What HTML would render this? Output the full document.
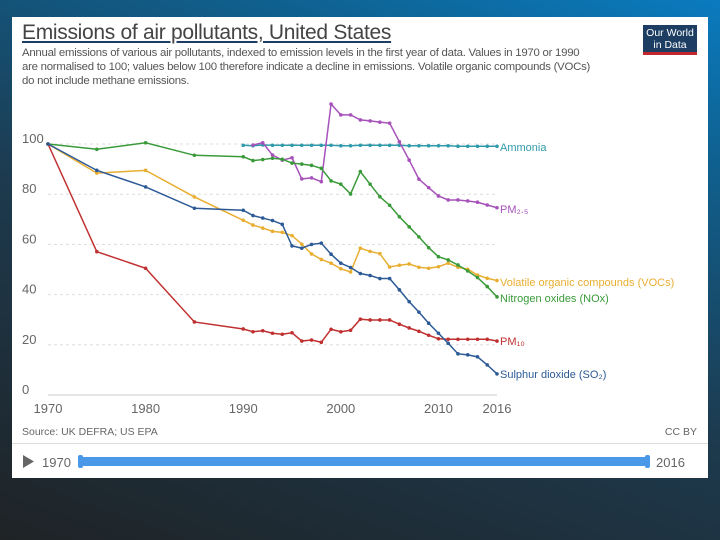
<!DOCTYPE html>
<html><head><meta charset="utf-8">
<style>
body{margin:0;width:720px;height:540px;overflow:hidden;font-family:"Liberation Sans",sans-serif;
background:linear-gradient(20deg,#1f2326 0%,#1d3a4e 45%,#0f6190 80%,#0a7bbf 100%);position:relative}
#card{position:absolute;left:12px;top:17px;width:696px;height:461px;background:#fff}
#title{position:absolute;left:10px;top:4px;font-size:21px;color:#444;text-decoration:underline;text-decoration-color:#1d3d63;letter-spacing:-0.3px}
#sub{position:absolute;left:10px;top:29px;white-space:nowrap;font-size:11.4px;line-height:14px;color:#555;letter-spacing:-0.25px}
#logo{position:absolute;left:631px;top:8px;width:54px;height:30px;background:#1d3d63;border-bottom:3px solid #c0272d;color:#fff;font-size:10.5px;line-height:12px;text-align:center;padding-top:2px;box-sizing:border-box}
#src{position:absolute;left:10px;top:409px;font-size:10.5px;color:#666}
#cc{position:absolute;right:11px;top:409px;font-size:10.5px;color:#666}
#div{position:absolute;left:0;top:426px;width:696px;height:1px;background:#ddd}
svg{position:absolute;left:0;top:0}
</style></head><body>
<div id="card">
<div id="title">Emissions of air pollutants, United States</div>
<div id="sub">Annual emissions of various air pollutants, indexed to emission levels in the first year of data. Values in 1970 or 1990<br>are normalised to 100; values below 100 therefore indicate a decline in emissions. Volatile organic compounds (VOCs)<br>do not include methane emissions.</div>
<div id="logo">Our World<br>in Data</div>
<div id="src">Source: UK DEFRA; US EPA</div>
<div id="cc">CC BY</div>
<div id="div"></div>
</div>
<svg id="chart" width="720" height="540"></svg>
<script>
const years5=[1970,1975,1980,1985,1990,1991,1992,1993,1994,1995,1996,1997,1998,1999,2000,2001,2002,2003,2004,2005,2006,2007,2008,2009,2010,2011,2012,2013,2014,2015,2016];
const years90=[1990,1991,1992,1993,1994,1995,1996,1997,1998,1999,2000,2001,2002,2003,2004,2005,2006,2007,2008,2009,2010,2011,2012,2013,2014,2015,2016];
const yearsPm25=years90.slice(1);
const ammonia=[99.5,99.3,99.6,99.5,99.5,99.5,99.5,99.5,99.5,99.5,99.3,99.3,99.5,99.5,99.5,99.5,99.5,99.3,99.3,99.3,99.3,99.3,99.1,99.1,99.1,99.1,99.1];
const pm25=[99.6,100.5,95.6,93.6,94.5,86.1,86.5,85,115.9,111.6,111.6,109.6,109.2,108.7,108.3,100.9,93.6,86,82.6,79.3,77.7,77.7,77.3,76.8,75.7,74.6];
const nox=[100,97.9,100.5,95.5,94.9,93.4,93.8,94.3,93.9,92.4,92,91.5,90.3,85.3,84,80.1,89,84,79,75.6,71,67,63,58.7,55.1,53.8,51.8,49.4,46.8,43.2,39.1];
const voc=[100,88.4,89.5,78.9,69.6,67.7,66.5,65.2,64.8,63.5,60.1,56.2,54,52.5,50.3,49,58.5,57.2,56.3,51,51.7,52.2,50.9,50.5,51.1,52.5,50.9,50.1,47.8,46.5,45.6];
const so2=[100,89.5,82.9,74.4,73.6,71.5,70.5,69.5,68,59.4,58.5,60,60.5,56.1,52.5,50.8,48.4,47.6,46.4,46.4,41.9,37.2,33,28.6,24.6,20.6,16.4,16,15.2,12,8.4];
const pm10=[100,57.1,50.5,29.1,26.3,25.2,25.6,24.6,24.2,24.8,21.5,21.9,21,26.2,25.2,25.8,30.2,29.9,29.9,29.9,28.2,26.7,25.4,23.8,22.4,22.2,22.2,22.2,22.2,22.2,21.5];
const yTicks=[0,20,40,60,80,100];
const xTicks=[1970,1980,1990,2000,2010,2016];
const series=[
 {name:'Ammonia',label:'Ammonia',xs:years90,ys:ammonia,color:'#2f9aab',ly:147},
 {name:'PM2.5',label:'PM₂.₅',xs:yearsPm25,ys:pm25,color:'#a652ba',ly:209},
 {name:'VOCs',label:'Volatile organic compounds (VOCs)',xs:years5,ys:voc,color:'#e8ae31',ly:282},
 {name:'NOx',label:'Nitrogen oxides (NOx)',xs:years5,ys:nox,color:'#3a9a3a',ly:298},
 {name:'PM10',label:'PM₁₀',xs:years5,ys:pm10,color:'#c03030',ly:341},
 {name:'SO2',label:'Sulphur dioxide (SO₂)',xs:years5,ys:so2,color:'#2c5a96',ly:374}
];
const X=y=>48+(y-1970)*(497-48)/46;
const Y=v=>395-v*2.51;
const NS='http://www.w3.org/2000/svg';
const svg=document.getElementById('chart');
function mk(t,a){const e=document.createElementNS(NS,t);for(const k in a)e.setAttribute(k,a[k]);svg.appendChild(e);return e;}
yTicks.forEach(v=>{
 const g=mk('line',{x1:48,x2:497,y1:Y(v),y2:Y(v),stroke:v===0?'#ccc':'#ddd','stroke-dasharray':v===0?'':'3,3'});
 
 
 const t=mk('text',{x:22,y:Y(v)-1,'font-size':13,fill:'#666','font-family':'Liberation Sans, sans-serif'});
 t.textContent=v;
 
 
});
xTicks.forEach(v=>{
 const t=mk('text',{x:X(v),y:413,'font-size':13,fill:'#666','text-anchor':'middle','font-family':'Liberation Sans, sans-serif'});
 t.textContent=v;
 
 
});
series.forEach(s=>{
 const pts=s.xs.map((x,i)=>X(x)+','+Y(s.ys[i])).join(' ');
 const p=mk('polyline',{points:pts,fill:'none',stroke:s.color,'stroke-width':1.5});
 
 
 s.xs.forEach((x,i)=>{
  const c=mk('circle',{cx:X(x),cy:Y(s.ys[i]),r:1.8,fill:s.color});
  
  
 });
 const t=mk('text',{x:500,y:s.ly+4,'font-size':11,fill:s.color,'font-family':'Liberation Sans, sans-serif'});
 t.textContent=s.label;
 
 
});
const play=mk('polygon',{points:'23,455 23,468 34,461.5',fill:'#666'});


const t1=mk('text',{x:42,y:467,'font-size':13,fill:'#666','font-family':'Liberation Sans, sans-serif'});t1.textContent='1970';


const t2=mk('text',{x:656,y:467,'font-size':13,fill:'#666','font-family':'Liberation Sans, sans-serif'});t2.textContent='2016';


const bar=mk('rect',{x:80,y:457,width:568,height:9,rx:2,fill:'#4a98e8'});


const h1=mk('rect',{x:78,y:455,width:5,height:13,rx:2,fill:'#4a98e8'});


const h2=mk('rect',{x:645,y:455,width:5,height:13,rx:2,fill:'#4a98e8'});


</script>
</body></html>
